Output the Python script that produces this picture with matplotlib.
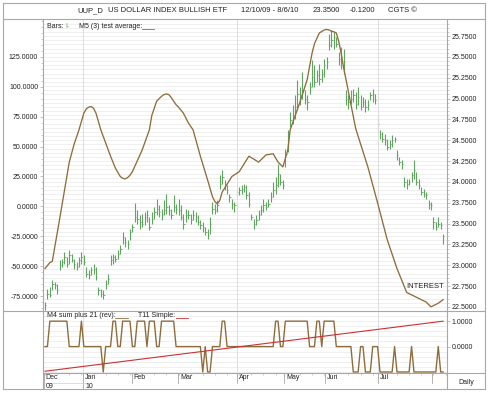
import matplotlib
matplotlib.use("Agg")
import matplotlib.pyplot as plt
from matplotlib.lines import Line2D
from matplotlib.ticker import MultipleLocator, FixedLocator, FormatStrFormatter

plt.rcParams['font.family'] = ['Liberation Sans', 'DejaVu Sans']

# --- data (bar index = trading day) ---
bar_low = [22.46, 22.60, 22.62, 22.70, 22.72, 22.66, 22.94, 22.98, 23.02, 22.98,
           23.02, 23.04, 22.96, 22.94, 22.98, 23.02, 23.00, 22.86, 22.84, 22.88,
           22.90, 22.82, 22.64, 22.62, 22.60, 22.72, 22.78, 23.00, 23.02, 23.04,
           23.08, 23.14, 23.26, 23.22, 23.20, 23.30, 23.40, 23.52, 23.50, 23.44,
           23.46, 23.48, 23.52, 23.42, 23.50, 23.56, 23.60, 23.58, 23.54, 23.60,
           23.62, 23.60, 23.56, 23.64, 23.62, 23.60, 23.54, 23.44, 23.52, 23.56,
           23.50, 23.54, 23.52, 23.48, 23.44, 23.40, 23.36, 23.32, 23.38, 23.62,
           23.62, 23.64, 23.92, 23.98, 23.90, 23.86, 23.76, 23.68, 23.64, 23.82,
           23.84, 23.86, 23.88, 23.80, 23.70, 23.54, 23.44, 23.48, 23.54, 23.60,
           23.64, 23.66, 23.70, 23.76, 23.82, 23.86, 23.94, 23.96, 23.92, 24.18,
           24.36, 24.66, 24.70, 24.76, 24.86, 24.92, 25.00, 24.94, 24.86, 25.06,
           25.14, 25.14, 25.20, 25.16, 25.20, 25.26, 25.36, 25.58, 25.62, 25.60,
           25.62, 25.40, 25.36, 25.30, 24.92, 24.88, 24.94, 24.96, 24.88, 24.92,
           24.86, 24.90, 24.84, 24.86, 24.98, 24.96, 24.94, 24.60, 24.52, 24.48,
           24.44, 24.38, 24.40, 24.42, 24.48, 24.26, 24.20, 24.16, 23.94, 23.92,
           23.96, 24.00, 24.04, 23.96, 23.92, 23.84, 23.82, 23.80, 23.68, 23.66,
           23.44, 23.42, 23.46, 23.44, 23.26]
bar_high = [22.56, 22.72, 22.74, 22.82, 22.80, 22.78, 23.06, 23.08, 23.16, 23.10,
            23.18, 23.14, 23.08, 23.04, 23.10, 23.16, 23.12, 22.98, 22.94, 22.98,
            23.02, 22.98, 22.74, 22.72, 22.70, 22.82, 22.90, 23.12, 23.14, 23.12,
            23.18, 23.24, 23.40, 23.34, 23.30, 23.44, 23.50, 23.75, 23.66, 23.60,
            23.62, 23.64, 23.66, 23.58, 23.64, 23.70, 23.80, 23.72, 23.68, 23.78,
            23.86, 23.72, 23.68, 23.84, 23.74, 23.80, 23.72, 23.62, 23.68, 23.66,
            23.62, 23.66, 23.64, 23.60, 23.54, 23.52, 23.46, 23.44, 23.58, 23.76,
            23.74, 23.78, 24.08, 24.14, 24.02, 23.96, 23.86, 23.80, 23.76, 23.92,
            23.94, 23.96, 23.98, 23.96, 23.88, 23.62, 23.56, 23.60, 23.66, 23.72,
            23.80, 23.76, 23.80, 23.88, 24.00, 24.06, 24.22, 24.10, 24.02, 24.40,
            24.62, 24.84, 24.92, 25.04, 25.22, 25.14, 25.32, 25.10, 25.04, 25.20,
            25.46, 25.40, 25.34, 25.42, 25.36, 25.48, 25.50, 25.78, 25.82, 25.80,
            25.74, 25.56, 25.62, 25.60, 25.10, 25.04, 25.10, 25.12, 25.08, 25.14,
            25.04, 25.02, 25.00, 24.98, 25.08, 25.12, 25.06, 24.80, 24.62, 24.60,
            24.58, 24.52, 24.50, 24.56, 24.54, 24.38, 24.30, 24.26, 24.06, 24.04,
            24.04, 24.12, 24.26, 24.12, 24.04, 23.94, 23.92, 23.88, 23.78, 23.76,
            23.58, 23.52, 23.58, 23.52, 23.38]
bar_close = [22.52, 22.66, 22.64, 22.78, 22.76, 22.70, 23.00, 23.04, 23.10, 23.02,
             23.12, 23.06, 23.02, 22.98, 23.06, 23.10, 23.04, 22.90, 22.88, 22.94,
             22.96, 22.86, 22.70, 22.66, 22.64, 22.78, 22.84, 23.06, 23.10, 23.08,
             23.14, 23.20, 23.34, 23.28, 23.26, 23.40, 23.46, 23.58, 23.56, 23.52,
             23.50, 23.58, 23.60, 23.46, 23.56, 23.64, 23.68, 23.64, 23.62, 23.66,
             23.70, 23.66, 23.60, 23.70, 23.68, 23.66, 23.58, 23.50, 23.60, 23.60,
             23.54, 23.60, 23.58, 23.52, 23.48, 23.46, 23.40, 23.36, 23.50, 23.68,
             23.66, 23.72, 23.98, 24.06, 23.96, 23.90, 23.82, 23.74, 23.72, 23.88,
             23.90, 23.92, 23.94, 23.84, 23.74, 23.58, 23.50, 23.54, 23.60, 23.66,
             23.72, 23.70, 23.74, 23.82, 23.90, 23.96, 24.10, 24.00, 23.96, 24.34,
             24.50, 24.74, 24.80, 24.90, 25.06, 25.04, 25.10, 25.00, 24.96, 25.14,
             25.26, 25.20, 25.28, 25.24, 25.30, 25.40, 25.44, 25.64, 25.70, 25.74,
             25.66, 25.48, 25.50, 25.44, 25.00, 24.96, 25.00, 25.04, 24.94, 25.02,
             24.90, 24.96, 24.90, 24.92, 25.04, 25.06, 24.98, 24.70, 24.58, 24.52,
             24.50, 24.42, 24.46, 24.50, 24.52, 24.32, 24.24, 24.22, 24.00, 23.98,
             24.00, 24.08, 24.14, 24.00, 23.96, 23.88, 23.86, 23.84, 23.74, 23.72,
             23.52, 23.46, 23.50, 23.48, 23.35]

# M5 (3) test average, read at these bar positions (left scale)
avg_idx = [0, 2, 3, 6, 8, 10, 12, 14, 16, 17, 18, 19, 20, 21, 23, 27, 29, 31,
           32, 33, 34, 35, 36, 40, 43, 44, 46, 48, 49, 50, 51, 52, 53, 54, 55,
           57, 59, 61, 64, 67, 69, 70, 71, 72, 73, 77, 80, 84, 88, 91, 94, 96,
           98, 100, 101, 105, 108, 110, 111, 113, 115, 116, 117, 118, 119, 120,
           121, 122, 123, 124, 128, 133, 137, 141, 145, 149, 153, 155, 157, 159,
           161, 162, 163, 164]
avg_val = [-52, -47, -46, -11, 13, 37, 52, 64, 78, 81.5, 83, 83.5, 82, 78, 64,
           42, 32, 25, 23.5, 23, 24, 26, 29, 47, 64, 76, 88, 92, 93.5, 94, 93.5,
           91, 88, 85, 83, 78, 70, 64, 42, 22, 8, 4, 2, 5, 12, 25, 29, 42, 37,
           43, 44, 37, 33, 47, 64, 87, 106, 128, 136, 145, 147.5, 148, 147.5,
           146.5, 146, 145, 138, 128, 116, 106, 65, 33, 3, -28, -52, -72, -76,
           -78, -80, -84, -82, -81, -79.5, -78]

# M4 sum plus 21 (rev), one value per bar
m4_vals = [0, 0, 1, 1, 1, 1, 1, 1, 1, 1, 0, 0, 0, 0, 0, 1, 0, 0, 0, 0,
           0, 0, 0, 0, -1, 0, 0, 0, 1, 1, 0, 0, 1, 1, 1, 1, 0, 0, 1, 1,
           1, 1, 0, 1, 1, 1, 0, 0, 1, 1, 1, 1, 1, 1, 0, 0, 0, 0, 0, 0,
           0, 0, 0, 0, 0, -1, 0, -1, -1, 0, 0, 0, 0, 1, 1, 0, 0, 0, 0, 0,
           0, 0, 0, 0, 0, 0, 0, 0, 0, 0, 0, 0, 0, 0, 0, 1, 1, 0, 0, 1,
           1, 1, 1, 1, 1, 1, 1, 1, 1, 0, 0, 0, 1, 1, 0, 1, 1, 1, 1, 1,
           0, 0, 0, 0, 0, 0, 0, -1, -1, -1, 0, 0, -1, -1, -1, 0, 0, 0, -1, -1,
           -1, -1, -1, -1, 0, -1, -1, -1, -1, -1, -1, 0, -1, -1, -1, -1, -1, -1, -1, -1,
           -1, -1, 0, -1, -1]
# T11 Simple (straight trend)
t11_idx = [0, 164]
t11_val = [-0.97, 1.0]

month_pos = [-0.5, 15.7, 35.8, 54.8, 79.1, 98.5, 115.4, 137.2, 159.5]
month_lab = ["Dec", "Jan", "Feb", "Mar", "Apr", "May", "Jun", "Jul", ""]
year_lab = ["09", "10"]
quarter_pos = [15.7, 79.1, 137.2]

GREEN = "#5fa560"
BROWN = "#8e6d3c"
RED = "#cc3030"
FRAME = "#a8a8a8"
GRID = "#e9e9e9"
TXT = "#222222"

W, H = 490, 393
fig = plt.figure(figsize=(W / 100, H / 100), dpi=100)


def box(x0, y0, x1, y1):
    return [x0 / W, 1 - y1 / H, (x1 - x0) / W, (y1 - y0) / H]


def fline(xs, ys, color=FRAME, lw=0.8):
    fig.add_artist(Line2D([x / W for x in xs], [1 - y / H for y in ys],
                          color=color, lw=lw, transform=fig.transFigure))


xlim = (-0.82, 165.6)

# main panel
ax = fig.add_axes(box(43, 19, 447, 311))
axr = ax.twinx()
ax.set_xlim(*xlim)
ax.set_ylim(-87.5, 156.7)
axr.set_ylim(22.452, 25.954)

for y in [22.45 + 0.05 * k for k in range(71)]:
    axr.axhline(y, color=GRID, lw=0.5, zorder=0)
for q in quarter_pos:
    ax.axvline(q, color="#dddddd", lw=0.7, zorder=0)

idx = list(range(len(bar_close)))
axr.vlines(idx, bar_low, bar_high, color=GREEN, lw=0.8)
axr.hlines(bar_close, [i for i in idx], [i + 0.55 for i in idx], color=GREEN, lw=0.6)
ax.plot(avg_idx, avg_val, color=BROWN, lw=0.95, zorder=5)
ax.set_zorder(axr.get_zorder() + 1)
ax.patch.set_visible(False)

ax.yaxis.set_major_locator(FixedLocator([-75, -50, -25, 0, 25, 50, 75, 100, 125]))
ax.yaxis.set_minor_locator(MultipleLocator(5))
ax.yaxis.set_major_formatter(FormatStrFormatter("%.4f"))
axr.yaxis.set_major_locator(FixedLocator([22.5 + 0.25 * k for k in range(14)]))
axr.yaxis.set_minor_locator(MultipleLocator(0.05))
axr.yaxis.set_major_formatter(FormatStrFormatter("%.4f"))
ax.set_xticks([])
for a in (ax, axr):
    a.tick_params(axis="y", which="major", labelsize=5, length=2, width=0.5,
                  colors=FRAME, labelcolor=TXT, pad=1.5)
    a.tick_params(axis="y", which="minor", length=1.2, width=0.4, colors=FRAME)
    for s in a.spines.values():
        s.set_visible(False)

ax.text(1, 150.5, "Bars: ", fontsize=5, color=TXT, va="center")
ax.text(8.2, 150.5, "I-", fontsize=5, color=GREEN, va="center")
ax.text(14, 150.5, "M5 (3) test average:", fontsize=5, color=TXT, va="center")
ax.plot([40, 45], [148, 148], color=BROWN, lw=0.6)
ax.text(164.3, -67, "INTEREST", fontsize=5.5, color=TXT, ha="right", va="center")

# lower panel
lo = fig.add_axes(box(43, 311, 447, 373))
lr = lo.twinx()
lo.set_xlim(*xlim)
lo.set_ylim(-1.04, 1.4)
lr.set_ylim(-1.04, 1.4)
for y in [-1.0 + 0.2 * k for k in range(12)]:
    lo.axhline(y, color=GRID, lw=0.5, zorder=0)
for q in quarter_pos:
    lo.axvline(q, color="#dddddd", lw=0.7, zorder=0)
lo.plot(range(len(m4_vals)), m4_vals, color=BROWN, lw=1.0)
lo.plot(t11_idx, t11_val, color=RED, lw=0.8)
lo.set_yticks([])
lr.set_yticks([0, 1])
lr.yaxis.set_major_formatter(FormatStrFormatter("%.4f"))
lr.tick_params(axis="y", labelsize=5, length=2, width=0.5, colors=FRAME,
               labelcolor=TXT, pad=1.5)
lo.set_xticks(month_pos)
lo.set_xticklabels([])
lo.xaxis.set_minor_locator(MultipleLocator(5))
lo.tick_params(axis="x", which="major", length=3, width=0.5, colors=FRAME)
lo.tick_params(axis="x", which="minor", length=1.5, width=0.4, colors=FRAME)
for a in (lo, lr):
    for s in a.spines.values():
        s.set_visible(False)
lo.text(1, 1.24, "M4 sum plus 21 (rev):", fontsize=5, color=TXT, va="center")
lo.plot([29, 34], [1.14, 1.14], color=BROWN, lw=0.6)
lo.text(38.5, 1.24, "T11 Simple:", fontsize=5, color=TXT, va="center")
lo.plot([54, 59], [1.14, 1.14], color=RED, lw=0.6)

# date strip
ds = fig.add_axes(box(43, 373, 447, 389))
ds.set_xlim(*xlim)
ds.set_ylim(0, 1)
ds.axis("off")
for k, (p, lab) in enumerate(zip(month_pos, month_lab)):
    ds.plot([p, p], [1, 0 if k < 2 else 0.4], color=FRAME, lw=0.6)
    ds.text(p + 0.8, 0.7, lab, fontsize=5, color=TXT, va="center")
for p, lab in zip(month_pos[:2], year_lab):
    ds.text(p + 0.8, 0.18, lab, fontsize=5, color=TXT, va="center")
ds.axhline(0.4, color="#cfcfcf", lw=0.5, xmax=0.11)

# frame and header
fline([3, 485, 485, 3, 3], [3, 3, 389, 389, 3])
fline([3, 485], [19, 19])
fline([43, 43], [19, 389])
fline([447, 447], [19, 389])
fline([3, 485], [311, 311])
fline([43, 485], [373, 373])
fig.text(466 / W, 1 - 382 / H, "Daily", fontsize=5, color=TXT, ha="center", va="center")

hy = 1 - 10.5 / H
fig.text(77 / W, hy, "UUP_D", fontsize=5.5, color=TXT, va="center")
fig.text(108 / W, hy, "US DOLLAR INDEX BULLISH ETF", fontsize=5.5, color=TXT, va="center")
fig.text(241 / W, hy, "12/10/09 - 8/6/10", fontsize=5.5, color=TXT, va="center")
fig.text(313 / W, hy, "23.3500", fontsize=5.5, color=TXT, va="center")
fig.text(350 / W, hy, "-0.1200", fontsize=5.5, color=TXT, va="center")
fig.text(388 / W, hy, "CGTS \u00a9", fontsize=5.5, color=TXT, va="center")

fig.savefig("out.png", dpi=100, facecolor="white")
